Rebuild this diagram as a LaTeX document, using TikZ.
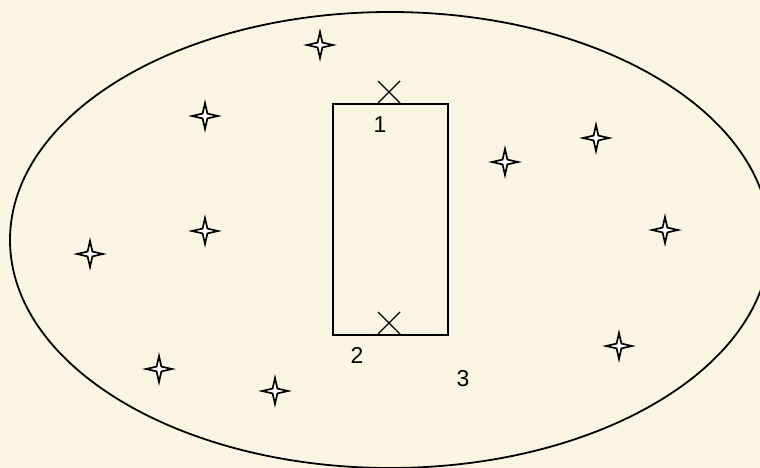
\documentclass[tikz,border=0pt]{standalone}
\usepackage{fontspec}
\setmainfont{Liberation Sans}
\usetikzlibrary{shapes.geometric}
\definecolor{bgcream}{RGB}{250,245,226}
\tikzset{
  sparkle/.style={draw=black, line width=1.7pt, fill=white, line join=miter, miter limit=20},
  lbl/.style={font=\fontsize{23}{26}\selectfont, inner sep=0pt},
  outline/.style={draw=black, line width=1.8pt}
}
\newcommand{\sparkleat}[2]{%
  \path[sparkle] (#1,#2) ++(0,-13) -- ++(2.4,10.6) -- ++(10.6,2.4) -- ++(-10.6,2.4) -- ++(-2.4,10.6) -- ++(-2.4,-10.6) -- ++(-10.6,-2.4) -- ++(10.6,-2.4) -- cycle;%
}
\begin{document}
\begin{tikzpicture}[x=1pt,y=-1pt]
\useasboundingbox (0,0) rectangle (760,468);
\fill[bgcream] (0,0) rectangle (760,468);
\node[outline, ellipse, minimum width=760pt, minimum height=456pt, inner sep=0pt] (region) at (390,240) {};
\node[outline, rectangle, minimum width=115pt, minimum height=231pt, inner sep=0pt, anchor=north west] (box) at (332,103) {};
\coordinate (topx) at (389,103);
\coordinate (botx) at (389,334);
\draw[black, line width=1.4pt] (topx) ++(-11,-22) -- ++(22,22);
\draw[black, line width=1.4pt] (topx) ++(11,-22) -- ++(-22,22);
\draw[black, line width=1.4pt] (botx) ++(-11,-22) -- ++(22,22);
\draw[black, line width=1.4pt] (botx) ++(11,-22) -- ++(-22,22);
\node[lbl] (l1) at (380,125) {1};
\node[lbl] (l2) at (357,355) {2};
\node[lbl] (l3) at (463,379) {3};
\sparkleat{320}{45}
\sparkleat{205}{116}
\sparkleat{205}{231}
\sparkleat{90}{254}
\sparkleat{159}{369}
\sparkleat{275}{391}
\sparkleat{505}{162}
\sparkleat{596}{138}
\sparkleat{665}{230}
\sparkleat{619}{346}
\end{tikzpicture}
\end{document}
